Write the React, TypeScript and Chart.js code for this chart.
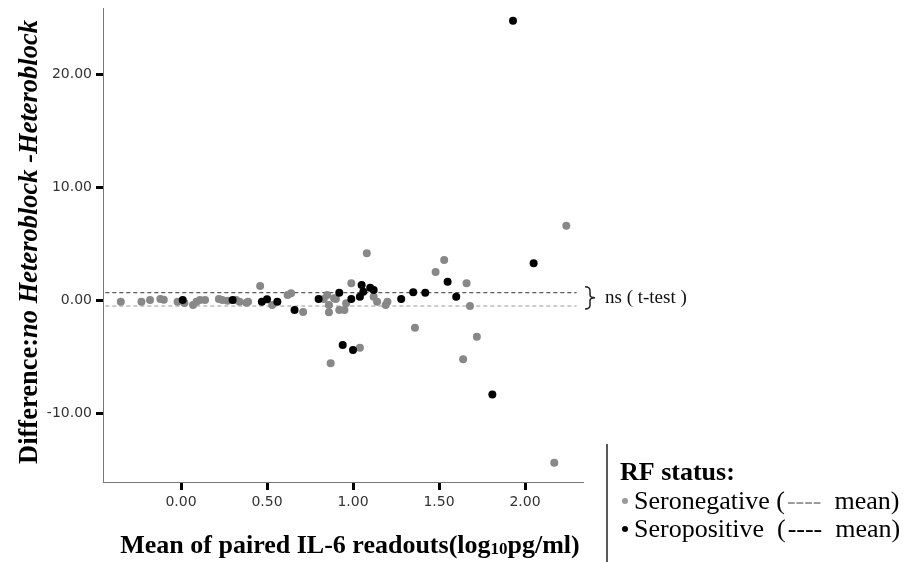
import React, { useEffect, useRef } from "react";
import { Chart, registerables } from "chart.js";
Chart.register(...registerables);

const X_TICKS = [0, 0.5, 1, 1.5, 2];
const Y_TICKS = [-10, 0, 10, 20];
const X_MIN = -0.4535;
const X_MAX = 2.337;
const Y_MIN = -16.1;
const Y_MAX = 25.84;

const NEG_X = [-0.35, -0.23, -0.18, -0.12, -0.1, -0.02, 0.02, 0.07, 0.09, 0.11, 0.14, 0.22, 0.24, 0.27, 0.32, 0.34, 0.38, 0.39, 0.46, 0.53, 0.62, 0.64, 0.71, 0.83, 0.85, 0.9, 0.86, 0.86, 0.92, 0.95, 0.96, 0.99, 1.12, 1.14, 1.19, 1.2, 1.08, 1.36, 1.48, 1.53, 1.66, 1.68, 0.87, 1.04, 1.72, 1.64, 2.17, 2.24, 0.89];
const NEG_Y = [-0.15, -0.15, 0.0, 0.09, 0.03, -0.15, -0.27, -0.44, -0.15, 0.0, 0.0, 0.09, 0.0, -0.06, 0.0, -0.15, -0.24, -0.15, 1.24, -0.44, 0.44, 0.59, -1.06, 0.09, 0.44, 0.09, -0.44, -1.09, -0.88, -0.88, -0.29, 1.48, 0.29, -0.15, -0.44, -0.15, 4.13, -2.45, 2.48, 3.54, 1.48, -0.53, -5.6, -4.22, -3.25, -5.25, -14.4, 6.58, 0.15];

const POS_X = [0.01, 0.3, 0.47, 0.5, 0.56, 0.66, 0.8, 0.92, 0.99, 1.04, 1.05, 1.06, 1.1, 1.12, 1.28, 1.35, 1.42, 1.55, 1.6, 0.94, 1.0, 1.81, 1.93, 2.05];
const POS_Y = [0.0, 0.0, -0.15, 0.06, -0.15, -0.88, 0.09, 0.65, 0.09, 0.29, 1.33, 0.73, 1.09, 0.88, 0.09, 0.68, 0.65, 1.62, 0.29, -3.98, -4.42, -8.35, 24.72, 3.25];

const MEAN_LINE_X = [-0.44, 2.3];
const NEG_MEAN = -0.53;
const POS_MEAN = 0.65;

const Y_TITLE = ["Difference:", "no Heteroblock -Heteroblock"];
const X_TITLE = ["Mean of paired IL-6 readouts(log", "10", "pg/ml)"];
const LEGEND_TITLE = "RF status:";
const LEGEND_ITEMS = ["Seronegative", "Seropositive"];
const ANNOT = "ns ( t-test )";

const GRAY = "#888888";
const BLACK = "#000000";
const SERIF = "'Liberation Serif', 'DejaVu Serif', serif";

const textPlugin = {
  id: "texts",
  afterDraw(chart: any) {
    const ctx: CanvasRenderingContext2D = chart.ctx;
    const ys = chart.scales.y;
    ctx.save();
    ctx.fillStyle = "#000";
    // Y title
    ctx.save();
    ctx.translate(30, 242);
    ctx.rotate(-Math.PI / 2);
    const f1 = `bold 26.5px ${SERIF}`;
    const f2 = `italic bold 26.5px ${SERIF}`;
    ctx.font = f1;
    const w1 = ctx.measureText(Y_TITLE[0]).width;
    ctx.font = f2;
    const w2 = ctx.measureText(Y_TITLE[1]).width;
    const sx = -(w1 + w2) / 2;
    ctx.textBaseline = "middle";
    ctx.textAlign = "left";
    ctx.font = f1;
    ctx.fillText(Y_TITLE[0], sx, 0);
    ctx.font = f2;
    ctx.fillText(Y_TITLE[1], sx + w1, 0);
    ctx.restore();

    // X title
    const xf = `bold 26px ${SERIF}`;
    const xs = `bold 17px ${SERIF}`;
    ctx.font = xf;
    const a = ctx.measureText(X_TITLE[0]).width;
    const c = ctx.measureText(X_TITLE[2]).width;
    ctx.font = xs;
    const b = ctx.measureText(X_TITLE[1]).width;
    const x0 = 350 - (a + b + c) / 2;
    ctx.textAlign = "left";
    ctx.textBaseline = "alphabetic";
    ctx.font = xf;
    ctx.fillText(X_TITLE[0], x0, 553);
    ctx.font = xs;
    ctx.fillText(X_TITLE[1], x0 + a, 554);
    ctx.font = xf;
    ctx.fillText(X_TITLE[2], x0 + a + b, 553);

    // brace + annotation
    const yTop = ys.getPixelForValue(POS_MEAN) - 6;
    const yBot = ys.getPixelForValue(NEG_MEAN) + 3;
    const mid = (yTop + yBot) / 2;
    const bx = 585;
    ctx.strokeStyle = "#222";
    ctx.lineWidth = 1.5;
    ctx.beginPath();
    ctx.moveTo(bx, yTop);
    ctx.quadraticCurveTo(bx + 5, yTop, bx + 5, yTop + 4);
    ctx.lineTo(bx + 5, mid - 3);
    ctx.quadraticCurveTo(bx + 5, mid, bx + 10, mid);
    ctx.quadraticCurveTo(bx + 5, mid, bx + 5, mid + 3);
    ctx.lineTo(bx + 5, yBot - 4);
    ctx.quadraticCurveTo(bx + 5, yBot, bx, yBot);
    ctx.stroke();
    ctx.font = `19px ${SERIF}`;
    ctx.textBaseline = "middle";
    ctx.fillStyle = "#111";
    ctx.fillText(ANNOT, 605, mid);

    // Legend
    ctx.strokeStyle = "#222";
    ctx.lineWidth = 1.5;
    ctx.beginPath();
    ctx.moveTo(607, 444);
    ctx.lineTo(607, 562);
    ctx.stroke();
    ctx.textBaseline = "alphabetic";
    ctx.fillStyle = "#000";
    ctx.font = `bold 26px ${SERIF}`;
    ctx.fillText(LEGEND_TITLE, 620, 480);
    const rows = [
      { label: LEGEND_ITEMS[0] + " (", color: "#999", dashColor: "#999", y: 509 },
      { label: LEGEND_ITEMS[1] + "  (", color: BLACK, dashColor: "#000", y: 537 },
    ];
    ctx.font = `26px ${SERIF}`;
    rows.forEach((r) => {
      ctx.fillStyle = r.color;
      ctx.beginPath();
      ctx.arc(625, r.y - 8, 3, 0, Math.PI * 2);
      ctx.fill();
      ctx.fillStyle = "#000";
      ctx.fillText(r.label, 634, r.y);
      const w = ctx.measureText(r.label).width;
      ctx.fillStyle = r.dashColor;
      ctx.fillText("----", 634 + w + 2, r.y);
      const wd = ctx.measureText("----").width;
      ctx.fillStyle = "#000";
      ctx.fillText("  mean)", 634 + w + 2 + wd, r.y);
    });
    ctx.restore();
  },
};

export default function App() {
  const ref = useRef<HTMLCanvasElement | null>(null);
  useEffect(() => {
    if (!ref.current) return;
    const neg = NEG_X.map((x, i) => ({ x, y: NEG_Y[i] }));
    const pos = POS_X.map((x, i) => ({ x, y: POS_Y[i] }));
    const negLine = MEAN_LINE_X.map((x) => ({ x, y: NEG_MEAN }));
    const posLine = MEAN_LINE_X.map((x) => ({ x, y: POS_MEAN }));
    const tickFont = { family: "'DejaVu Sans', sans-serif", size: 14 };
    const chart = new Chart(ref.current, {
      type: "scatter",
      data: {
        datasets: [
          { label: "Seropositive", data: pos, backgroundColor: BLACK, pointRadius: 4, pointBorderWidth: 0, order: 0 } as any,
          { label: "Seronegative", data: neg, backgroundColor: GRAY, pointRadius: 4, pointBorderWidth: 0, order: 1 } as any,
          { label: "pos mean", data: posLine, showLine: true, borderColor: "#333", borderWidth: 1, borderDash: [4, 3], pointRadius: 0, order: 2 } as any,
          { label: "neg mean", data: negLine, showLine: true, borderColor: "#999", borderWidth: 1, borderDash: [4, 3], pointRadius: 0, order: 3 } as any,
        ],
      },
      options: {
        animation: false,
        responsive: false,
        devicePixelRatio: 1,
        layout: { padding: { left: 0, top: 8, right: 326, bottom: 0 } },
        plugins: { legend: { display: false }, tooltip: { enabled: false } },
        scales: {
          x: {
            type: "linear",
            min: X_MIN,
            max: X_MAX,
            afterBuildTicks: (s: any) => {
              s.ticks = X_TICKS.map((v) => ({ value: v }));
            },
            afterFit: (s: any) => {
              s.height = 80;
              s.paddingLeft = 0;
              s.paddingRight = 0;
            },
            ticks: {
              callback: (v: any) => Number(v).toFixed(2),
              font: tickFont,
              color: "#333",
              padding: 4,
              maxRotation: 0,
              autoSkip: false,
            },
            grid: { display: true, drawOnChartArea: false, drawTicks: true, tickLength: 8, tickWidth: 3, tickColor: "#000" },
            border: { display: true, color: "#777", width: 1 },
          },
          y: {
            type: "linear",
            min: Y_MIN,
            max: Y_MAX,
            afterBuildTicks: (s: any) => {
              s.ticks = Y_TICKS.map((v) => ({ value: v }));
            },
            afterFit: (s: any) => {
              s.width = 103;
              s.paddingTop = 0;
              s.paddingBottom = 0;
            },
            ticks: {
              callback: (v: any) => Number(v).toFixed(2),
              font: tickFont,
              color: "#333",
              padding: 4,
              autoSkip: false,
            },
            grid: { display: true, drawOnChartArea: false, drawTicks: true, tickLength: 7, tickWidth: 3, tickColor: "#000" },
            border: { display: true, color: "#777", width: 1 },
          },
        },
      } as any,
      plugins: [textPlugin],
    });
    return () => chart.destroy();
  }, []);
  return (
    <div style={{ position: "fixed", left: 0, top: 0, width: 909, height: 562, background: "#fff" }}>
      <canvas ref={ref} width={909} height={562} style={{ width: 909, height: 562 }} />
    </div>
  );
}
